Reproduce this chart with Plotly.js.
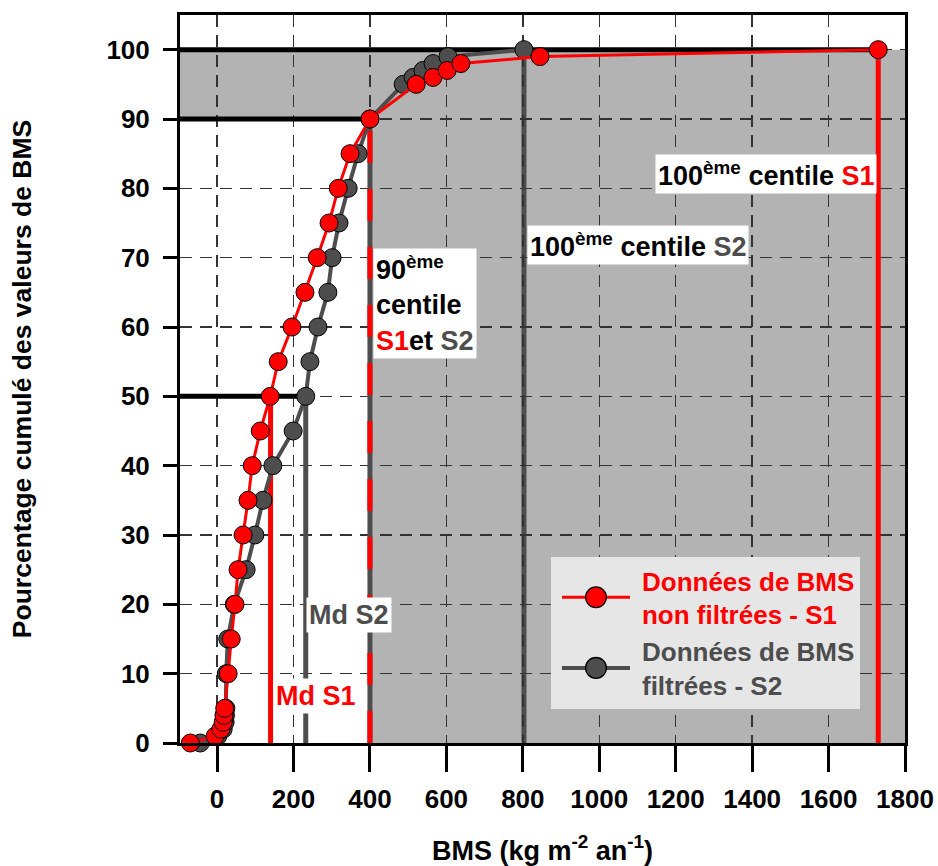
<!DOCTYPE html>
<html>
<head>
<meta charset="utf-8">
<script src="https://cdn.plot.ly/plotly-3.0.1.min.js"></script>
<style>html,body{margin:0;padding:0;background:#fff;}#chart{width:938px;height:866px;}</style>
</head>
<body>
<div id="chart"></div>
<script>
// Cumulative percentage levels and BMS values (kg m-2 an-1)
const pctS1 = [0, 1, 2, 3, 4, 5, 10, 15, 20, 25, 30, 35, 40, 45, 50, 55, 60, 65, 70, 75, 80, 85, 90, 95, 96, 97, 98, 99, 100];
const bmsS1 = [-70, -5, 10, 16, 18, 20, 29, 37, 47, 55, 68, 81, 92, 113, 139, 160, 196, 230, 262, 293, 317, 348, 400, 521, 565, 602, 638, 845, 1730];
const pctS2 = [0, 1, 2, 3, 4, 5, 10, 15, 20, 25, 30, 35, 40, 45, 50, 55, 60, 65, 70, 75, 80, 85, 90, 95, 96, 97, 98, 99, 100];
const bmsS2 = [-44, 2, 16, 21, 22, 23, 24, 28, 45, 76, 99, 120, 146, 199, 232, 243, 264, 290, 301, 319, 343, 369, 400, 487, 513, 539, 565, 604, 803];
// Percentile markers
const mdS1 = 140, mdS2 = 232, p90 = 400, p100S2 = 803, p100S1 = 1730;
const xTicks = [0, 200, 400, 600, 800, 1000, 1200, 1400, 1600, 1800];
const yTicks = [0, 10, 20, 30, 40, 50, 60, 70, 80, 90, 100];
const xMin = -97, xMax = 1800, yMax = 105;

const RED = '#ff0000', GREY = '#4d4d4d', SHADE = '#b3b3b3';
const FONT = 'Liberation Sans, Arial, sans-serif';

const traces = [
  {x: bmsS2, y: pctS2, type: 'scatter', mode: 'lines+markers', cliponaxis: false,
   name: '<span style="color:' + GREY + '">Données de BMS<br>filtrées - S2</span>',
   line: {color: GREY, width: 4},
   marker: {size: 18, color: GREY, line: {color: '#000', width: 1}}},
  {x: bmsS1, y: pctS1, type: 'scatter', mode: 'lines+markers', cliponaxis: false,
   name: '<span style="color:' + RED + '">Données de BMS<br>non filtrées - S1</span>',
   line: {color: RED, width: 3},
   marker: {size: 18, color: RED, line: {color: '#000', width: 1}}}
];

function vline(x, y1, color, layer, dash) {
  return {type: 'line', xref: 'x', yref: 'y', x0: x, x1: x, y0: 0, y1: y1, layer: layer,
          line: {color: color, width: 5, dash: dash || 'solid'}};
}
function hline(y, x1) {
  return {type: 'line', xref: 'x', yref: 'y', x0: xMin, x1: x1, y0: y, y1: y, layer: 'between',
          line: {color: '#000', width: 5}};
}

const shapes = [
  {type: 'rect', xref: 'x', yref: 'y', x0: xMin, x1: p90, y0: 90, y1: 100, layer: 'below', fillcolor: SHADE, line: {width: 0}},
  {type: 'rect', xref: 'x', yref: 'y', x0: p90, x1: xMax, y0: 0, y1: 100, layer: 'below', fillcolor: SHADE, line: {width: 0}},
  vline(p100S2, 100, GREY, 'below'),
  hline(100, p100S1),
  hline(90, p90),
  hline(50, mdS2),
  vline(p90, 90, GREY, 'between'),
  vline(p90, 90, RED, 'between', '32px,26px'),
  vline(p100S1, 100, RED, 'between'),
  vline(mdS1, 50, RED, 'between'),
  vline(mdS2, 50, GREY, 'between')
];

const annFont = {family: FONT, size: 27, color: '#000', weight: 'bold'};
function ann(x, y, text, xanchor) {
  return {x: x, y: y, xref: 'x', yref: 'y', text: text, showarrow: false, xanchor: xanchor, yanchor: 'middle',
          align: 'left', bgcolor: '#ffffff', borderpad: 2, font: annFont};
}
const annotations = [
  ann(p100S1 - 3, 82, '100<sup>ème</sup> centile <span style="color:' + RED + '">S1</span>', 'right'),
  ann(p100S2 + 8, 71.8, '100<sup>ème</sup> centile <span style="color:' + GREY + '">S2</span>', 'left'),
  ann(p90 + 8, 63.4, '90<sup>ème</sup><br>centile<br><span style="color:' + RED + '">S1</span>et <span style="color:' + GREY + '">S2</span>', 'left'),
  ann(mdS2 + 1, 18.4, '<span style="color:' + GREY + '">Md S2</span>', 'left'),
  ann(mdS1 + 6, 6.8, '<span style="color:' + RED + '">Md S1</span>', 'left')
];

const axisCommon = {
  showline: true, linecolor: '#000', linewidth: 3, mirror: true,
  ticks: 'outside', tickcolor: '#000', tickwidth: 3,
  showgrid: true, gridcolor: '#333333', gridwidth: 1.5, griddash: '12px,8px',
  zeroline: false, tickfont: {family: FONT, size: 26, color: '#000', weight: 'bold'}
};

const layout = {
  width: 938, height: 866,
  margin: {l: 180, r: 33, t: 15, b: 123},
  paper_bgcolor: '#ffffff', plot_bgcolor: '#ffffff',
  showlegend: true,
  legend: {x: 0.5117, y: 0.2555, xanchor: 'left', yanchor: 'top', bgcolor: '#e6e6e6',
           traceorder: 'reversed', font: {family: FONT, size: 26, color: '#000', weight: 'bold'},
           tracegroupgap: 0, borderwidth: 0, itemwidth: 81},
  xaxis: Object.assign({}, axisCommon, {
    range: [xMin, xMax], tickvals: xTicks, ticktext: xTicks.map(String), ticklen: 26, ticklabelstandoff: 5,
    title: {text: 'BMS (kg m<sup>-2</sup> an<sup>-1</sup>)', standoff: 28,
            font: {family: FONT, size: 27, color: '#000', weight: 'bold'}}
  }),
  yaxis: Object.assign({}, axisCommon, {
    range: [0, yMax], tickvals: yTicks, ticktext: yTicks.map(String), ticklen: 14, ticklabelstandoff: 8,
    title: {text: 'Pourcentage cumulé des valeurs de BMS', standoff: 68,
            font: {family: FONT, size: 26.5, color: '#000', weight: 'bold'}}
  }),
  shapes: shapes,
  annotations: annotations
};

Plotly.newPlot('chart', traces, layout, {displayModeBar: false, staticPlot: true}).then(function () {
  // lengthen the legend line samples and centre (slightly enlarged) markers on them
  document.querySelectorAll('.legend .legendlines path').forEach(function (p) { p.setAttribute('d', 'M11,0h68'); });
  document.querySelectorAll('.legend .legendpoints path.scatterpts').forEach(function (p) { p.setAttribute('transform', 'translate(45,0) scale(1.3)'); });
});
</script>
</body>
</html>
